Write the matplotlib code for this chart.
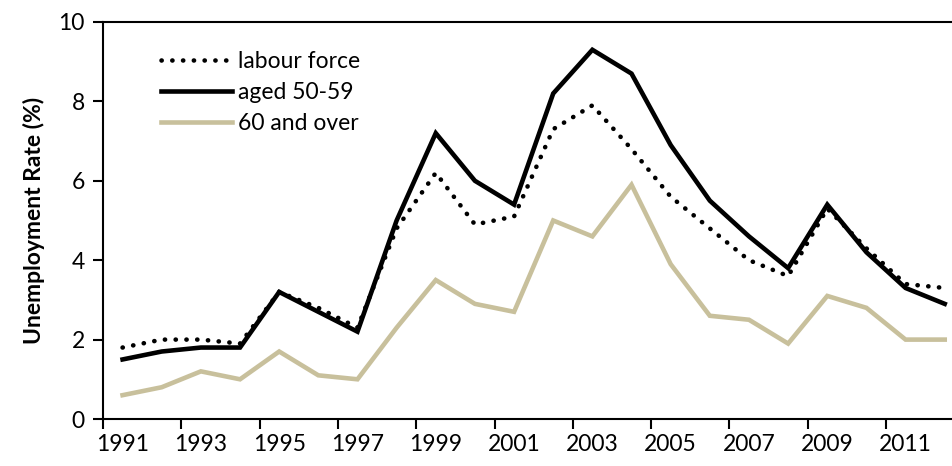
import numpy as np
import matplotlib
matplotlib.use("Agg")
import matplotlib.pyplot as plt

plt.rcParams.update({"font.family": ["Lato", "DejaVu Sans"], "font.size": 16.5})

years = list(range(1991, 2013))
labour_force = [1.8, 2.0, 2.0, 1.9, 3.2, 2.8, 2.3, 4.8, 6.2, 4.9, 5.1,
                7.3, 7.9, 6.8, 5.6, 4.8, 4.0, 3.6, 5.3, 4.3, 3.4, 3.3]
aged_50_59 = [1.5, 1.7, 1.8, 1.8, 3.2, 2.7, 2.2, 5.0, 7.2, 6.0, 5.4,
              8.2, 9.3, 8.7, 6.9, 5.5, 4.6, 3.8, 5.4, 4.2, 3.3, 2.9]
over_60 = [0.6, 0.8, 1.2, 1.0, 1.7, 1.1, 1.0, 2.3, 3.5, 2.9, 2.7,
           5.0, 4.6, 5.9, 3.9, 2.6, 2.5, 1.9, 3.1, 2.8, 2.0, 2.0]

TAN = "#c8c09c"

fig = plt.figure(figsize=(9.52, 4.66), dpi=100)
ax = fig.add_axes([103/952, 1-419/466, 849/952, (419-22)/466])

x = np.arange(len(years))
ax.plot(x, labour_force, color="black", lw=3.3, linestyle=(0, (0.05, 2.3)),
        dash_capstyle="round", label="labour force")
ax.plot(x, aged_50_59, color="black", lw=3.3, solid_joinstyle="miter",
        label="aged 50-59")
ax.plot(x, over_60, color=TAN, lw=3.3, solid_joinstyle="miter",
        label="60 and over")

ax.set_xlim(-0.5, -0.5 + 849/39.15)
ax.set_ylim(0, 10)
ax.set_yticks([0, 2, 4, 6, 8, 10])
ax.set_xticks(np.arange(-0.5, 21, 2))
ax.set_xticklabels([])
ax.set_xticks(x[::2], minor=True)
ax.set_xticklabels([str(y) for y in years[::2]], minor=True)
ax.tick_params(axis="x", which="minor", length=0, pad=11)
ax.tick_params(axis="x", which="major", length=7, width=1.5, direction="out")
ax.tick_params(axis="y", length=7, width=1.5, direction="out", pad=6)

for s in ["left", "bottom", "top"]:
    ax.spines[s].set_linewidth(1.5)
ax.spines["right"].set_visible(False)

ax.set_ylabel("Unemployment Rate (%)", fontweight="bold", labelpad=10)

ax.legend(loc="upper left", bbox_to_anchor=(0.044, 0.98), frameon=False,
          handlelength=3.1, handletextpad=0.25, labelspacing=0.45, fontsize=16.5)

fig.savefig("out.png", dpi=100)
